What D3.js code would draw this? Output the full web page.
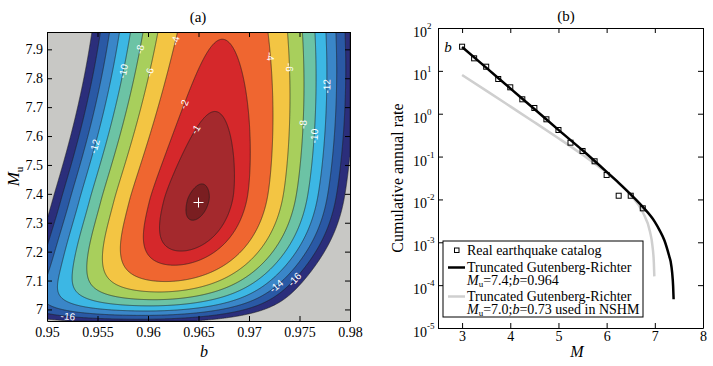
<!DOCTYPE html>
<html>
<head>
<meta charset="utf-8">
<script src="https://cdn.jsdelivr.net/npm/d3@7"></script>
<style>
  body { margin: 0; background: #fff; }
  text { font-family: "Liberation Serif", "Times New Roman", serif; }
</style>
</head>
<body>
<div id="chart"></div>
<script>
// ---------- (a) likelihood surface ----------
const contourLevels = [-18, -16, -14, -12, -10, -8, -6, -4, -2, -1, -0.1];
const bandColors = ['#2b2e7b', '#2a59a5', '#3a86c8', '#3cb7e4', '#6cc3a5', '#a8cf5c',
                    '#f3c543', '#ef6630', '#d5282b', '#a4292d', '#7a1e21'];
const outsideColor = '#c8c8c5';
const bestFit = { b: 0.965, mu: 7.37 };
const bTicks = [0.95, 0.955, 0.96, 0.965, 0.97, 0.975, 0.98];
const muTicks = [7, 7.1, 7.2, 7.3, 7.4, 7.5, 7.6, 7.7, 7.8, 7.9];

// ridge of the surface
const peakB = 0.96495, peakMu = 7.375;
const ridgeSlope = 0.006754;
const ridgeCurve = [-0.00439, -0.01735];   // [above peak, below peak]
const upperA = 4.119, upperD = 0.0858;      // drop above the peak
const lowerA = 0.457, lowerK = 9.0;         // drop below the peak
const widthBase = 0.0034, widthTilt = -0.00026;
const widthLowFlare = [0.624, 0.35];        // below the peak: [left side, right side]
const widthLowPow = 6;

// contour labels: level, Mu where it sits, side of the ridge
const labelLevels = [-4, -8, -6, -10, -12, -2, -1, -4, -6, -8, -10, -12, -14, -16, -16];
const labelMu = [7.929, 7.90, 7.82, 7.824, 7.564, 7.71, 7.623, 7.876, 7.838, 7.64, 7.60, 7.772, 7.081, 7.104, 6.976];
const labelSide = [-1, -1, -1, -1, -1, -1, -1, 1, 1, 1, 1, 1, 1, 1, -1];

// ---------- (b) magnitude-frequency ----------
const catalogM = [3, 3.25, 3.5, 3.75, 4, 4.25, 4.5, 4.75, 5, 5.25, 5.5, 5.75, 6, 6.25, 6.5, 6.75];
const catalogRate = [36.6, 19.6, 12.5, 6.46, 4.13, 2.17, 1.36, 0.741, 0.417, 0.211, 0.135, 0.0776, 0.0372, 0.0122, 0.0122, 0.0062];
const fitM = [3.0, 3.5, 4.0, 4.5, 5.0, 5.5, 6.0, 6.25, 6.5, 6.75, 7.0, 7.1, 7.2, 7.3, 7.33, 7.36, 7.38, 7.39];
const fitRate = [36, 11.9, 3.9, 1.29, 0.42, 0.14, 0.044, 0.0244, 0.0131, 0.0067, 0.0030, 0.0019, 0.0011, 0.00047, 0.00035, 0.000195, 0.000095, 0.000047];
const nshmM = [3.0, 3.5, 4.0, 4.5, 5.0, 5.5, 6.0, 6.5, 6.75, 6.9, 6.95, 6.98, 6.99];
const nshmRate = [8.0, 3.45, 1.48, 0.634, 0.268, 0.110, 0.042, 0.0127, 0.0050, 0.00176, 0.00084, 0.00033, 0.00016];
const mTicks = [3, 4, 5, 6, 7, 8];
const rateTicks = [1e-5, 1e-4, 1e-3, 1e-2, 1e-1, 1, 10, 100];

const svg = d3.select('#chart').append('svg')
  .attr('width', 713).attr('height', 366)
  .style('background', 'white');

// ================= panel (a) =================
const A = { left: 47, top: 32, width: 303, height: 289 };
const xA = d3.scaleLinear().domain([0.95, 0.98]).range([A.left, A.left + A.width]);
const yA = d3.scaleLinear().domain([6.96, 7.96]).range([A.top + A.height, A.top]);

function ridgeB(d) { return peakB + ridgeSlope * d + ridgeCurve[d >= 0 ? 0 : 1] * d * d; }
function ridgeDrop(d) {
  return d >= 0 ? upperA * d * d / (d + upperD)
                : lowerA * (Math.exp(-lowerK * d) - 1 + lowerK * d);
}
function halfWidth(d, side) {
  let s = widthBase + widthTilt * d;
  if (d < 0) s += widthLowFlare[side < 0 ? 0 : 1] * Math.pow(-d, widthLowPow);
  return s;
}
function surface(b, mu) {
  const d = mu - peakMu;
  const c = ridgeB(d);
  const z = (b - c) / halfWidth(d, b < c ? -1 : 1);
  return -ridgeDrop(d) - z * z;
}
// b where a level crosses a given Mu, on one side of the ridge
function levelB(level, mu, side) {
  const d = mu - peakMu;
  const r = -level - ridgeDrop(d);
  if (r < 0) return null;
  return ridgeB(d) + side * halfWidth(d, side) * Math.sqrt(r);
}

const nx = 606, ny = 578;
const values = new Float64Array(nx * ny);
for (let j = 0; j < ny; j++) {
  const mu = yA.invert(A.top + (j + 0.5) * A.height / ny);
  for (let i = 0; i < nx; i++) {
    const b = xA.invert(A.left + (i + 0.5) * A.width / nx);
    values[j * nx + i] = surface(b, mu);
  }
}
const bands = d3.contours().size([nx, ny]).thresholds(contourLevels)(values);
const gridToPx = d3.geoTransform({
  point: function (x, y) {
    this.stream.point(A.left + x * A.width / nx, A.top + y * A.height / ny);
  }
});
const contourPath = d3.geoPath(gridToPx);

svg.append('clipPath').attr('id', 'clipA')
  .append('rect').attr('x', A.left).attr('y', A.top).attr('width', A.width).attr('height', A.height);

const gA = svg.append('g').attr('clip-path', 'url(#clipA)');
gA.append('rect')
  .attr('x', A.left).attr('y', A.top).attr('width', A.width).attr('height', A.height)
  .attr('fill', outsideColor);
gA.selectAll('path.band').data(bands).enter().append('path')
  .attr('class', 'band')
  .attr('d', contourPath)
  .attr('fill', (d, i) => bandColors[i])
  .attr('stroke', '#1c1c1c')
  .attr('stroke-width', 0.6);

// contour labels
labelLevels.forEach((lev, k) => {
  const mu = labelMu[k], side = labelSide[k];
  const b = levelB(lev, mu, side);
  if (b === null) return;
  const e = 0.004;
  const b1 = levelB(lev, mu - e, side), b2 = levelB(lev, mu + e, side);
  let ang = 0;
  if (b1 !== null && b2 !== null) {
    ang = Math.atan2(yA(mu + e) - yA(mu - e), xA(b2) - xA(b1)) * 180 / Math.PI;
    if (ang > 90) ang -= 180;
    if (ang < -90) ang += 180;
  }
  gA.append('text')
    .attr('transform', `translate(${xA(b)},${yA(mu)}) rotate(${ang})`)
    .attr('text-anchor', 'middle')
    .attr('dy', '0.35em')
    .attr('fill', 'white')
    .style('font-family', '"Liberation Sans", Arial, sans-serif')
    .style('font-size', '10px')
    .text(lev);
});

// best-fit cross
const px = xA(bestFit.b), py = yA(bestFit.mu);
gA.append('path')
  .attr('d', `M${px - 5},${py}H${px + 5}M${px},${py - 5}V${py + 5}`)
  .attr('stroke', 'white').attr('stroke-width', 1);

function styleAxis(g) {
  g.selectAll('path.domain').attr('stroke', '#000').attr('stroke-width', 1);
  g.selectAll('.tick line').attr('stroke', '#000');
  g.selectAll('.tick text').attr('fill', '#000').style('font-size', '14px')
    .style('font-family', '"Liberation Serif", serif');
}

svg.append('g').attr('transform', `translate(0,${A.top + A.height})`)
  .call(d3.axisBottom(xA).tickValues(bTicks).tickSizeInner(-5).tickSizeOuter(0).tickPadding(6)
    .tickFormat(d3.format('')))
  .call(styleAxis);
svg.append('g').attr('transform', `translate(0,${A.top})`)
  .call(d3.axisTop(xA).tickValues(bTicks).tickSizeInner(-5).tickSizeOuter(0).tickFormat(''))
  .call(styleAxis);
svg.append('g').attr('transform', `translate(${A.left},0)`)
  .call(d3.axisLeft(yA).tickValues(muTicks).tickSizeInner(-5).tickSizeOuter(0).tickPadding(4)
    .tickFormat(d3.format('')))
  .call(styleAxis);
svg.append('g').attr('transform', `translate(${A.left + A.width},0)`)
  .call(d3.axisRight(yA).tickValues(muTicks).tickSizeInner(-5).tickSizeOuter(0).tickFormat(''))
  .call(styleAxis);

svg.append('text').attr('x', 198).attr('y', 22).attr('text-anchor', 'middle')
  .style('font-size', '15px').text('(a)');
svg.append('text').attr('x', 204).attr('y', 357).attr('text-anchor', 'middle')
  .style('font-size', '16px').style('font-style', 'italic').text('b');
const muLabel = svg.append('text')
  .attr('transform', `translate(19,${A.top + A.height / 2}) rotate(-90)`)
  .attr('text-anchor', 'middle').style('font-size', '17px');
muLabel.append('tspan').style('font-style', 'italic').text('M');
muLabel.append('tspan').attr('dy', 4).style('font-size', '11px').text('u');

// ================= panel (b) =================
const B = { left: 438, top: 28, width: 265, height: 300 };
const xB = d3.scaleLinear().domain([2.5, 8]).range([B.left, B.left + B.width]);
const yB = d3.scaleLog().domain([1e-5, 1e2]).range([B.top + B.height, B.top]);

svg.append('rect').attr('x', B.left).attr('y', B.top).attr('width', B.width).attr('height', B.height)
  .attr('fill', 'white');

svg.append('g').attr('transform', `translate(0,${B.top + B.height})`)
  .call(d3.axisBottom(xB).tickValues(mTicks).tickSizeInner(-5).tickSizeOuter(0).tickPadding(3)
    .tickFormat(d3.format('d')))
  .call(styleAxis);
svg.append('g').attr('transform', `translate(0,${B.top})`)
  .call(d3.axisTop(xB).tickValues(mTicks).tickSizeInner(-5).tickSizeOuter(0).tickFormat(''))
  .call(styleAxis);
svg.append('g').attr('transform', `translate(${B.left},0)`)
  .call(d3.axisLeft(yB).tickValues(rateTicks).tickSizeInner(-5).tickSizeOuter(0).tickFormat(''))
  .call(styleAxis);
svg.append('g').attr('transform', `translate(${B.left + B.width},0)`)
  .call(d3.axisRight(yB).tickValues(rateTicks).tickSizeInner(-5).tickSizeOuter(0).tickFormat(''))
  .call(styleAxis);

const rateLabels = svg.append('g').selectAll('text').data(rateTicks).enter().append('text')
  .attr('x', B.left - 25).attr('y', d => yB(d) + 9)
  .style('font-size', '14px');
rateLabels.append('tspan').text('10');
rateLabels.append('tspan').attr('dy', -8).style('font-size', '9px')
  .text(d => Math.round(Math.log10(d)));

const gB = svg.append('g');
const curve = d3.line().curve(d3.curveMonotoneX);
gB.append('path')
  .attr('d', curve(nshmM.map((m, i) => [xB(m), yB(nshmRate[i])])))
  .attr('fill', 'none').attr('stroke', '#cfcfcf').attr('stroke-width', 2.5);
gB.append('path')
  .attr('d', curve(fitM.map((m, i) => [xB(m), yB(fitRate[i])])))
  .attr('fill', 'none').attr('stroke', '#000').attr('stroke-width', 2.5);
gB.selectAll('rect.obs').data(catalogM).enter().append('rect')
  .attr('class', 'obs')
  .attr('x', (d, i) => xB(d) - 2.5).attr('y', (d, i) => yB(catalogRate[i]) - 2.5)
  .attr('width', 5).attr('height', 5)
  .attr('fill', 'none').attr('stroke', '#000').attr('stroke-width', 1);

svg.append('text').attr('x', 448).attr('y', 52).attr('text-anchor', 'middle')
  .style('font-size', '15px').style('font-style', 'italic').text('b');

// legend
const lg = svg.append('g');
lg.append('rect').attr('x', 443).attr('y', 241).attr('width', 200).attr('height', 76)
  .attr('fill', 'white').attr('stroke', '#000').attr('stroke-width', 1);
lg.append('rect').attr('x', 454.5).attr('y', 248).attr('width', 4.5).attr('height', 4.5)
  .attr('fill', 'none').attr('stroke', '#000');
lg.append('text').attr('x', 467).attr('y', 255).style('font-size', '14px').text('Real earthquake catalog');
lg.append('line').attr('x1', 448).attr('x2', 465).attr('y1', 267.5).attr('y2', 267.5)
  .attr('stroke', '#000').attr('stroke-width', 2.5);
lg.append('text').attr('x', 467).attr('y', 271.5).style('font-size', '14px').text('Truncated Gutenberg-Richter');
const l2 = lg.append('text').attr('x', 467).attr('y', 285).style('font-size', '14px');
l2.append('tspan').style('font-style', 'italic').text('M');
l2.append('tspan').attr('dy', 2).style('font-size', '9px').text('u');
l2.append('tspan').attr('dy', -2).text('=7.4;');
l2.append('tspan').style('font-style', 'italic').text('b');
l2.append('tspan').text('=0.964');
lg.append('line').attr('x1', 448).attr('x2', 465).attr('y1', 296.5).attr('y2', 296.5)
  .attr('stroke', '#cfcfcf').attr('stroke-width', 2.5);
lg.append('text').attr('x', 467).attr('y', 300.5).style('font-size', '14px').text('Truncated Gutenberg-Richter');
const l3 = lg.append('text').attr('x', 467).attr('y', 314).style('font-size', '14px');
l3.append('tspan').style('font-style', 'italic').text('M');
l3.append('tspan').attr('dy', 2).style('font-size', '9px').text('u');
l3.append('tspan').attr('dy', -2).text('=7.0;');
l3.append('tspan').style('font-style', 'italic').text('b');
l3.append('tspan').text('=0.73 used in NSHM');

svg.append('text').attr('x', 566).attr('y', 21).attr('text-anchor', 'middle')
  .style('font-size', '15px').text('(b)');
svg.append('text').attr('x', 577).attr('y', 357).attr('text-anchor', 'middle')
  .style('font-size', '16px').style('font-style', 'italic').text('M');
svg.append('text')
  .attr('transform', `translate(403,${B.top + B.height / 2}) rotate(-90)`)
  .attr('text-anchor', 'middle').style('font-size', '16px').text('Cumulative annual rate');
</script>
</body>
</html>
